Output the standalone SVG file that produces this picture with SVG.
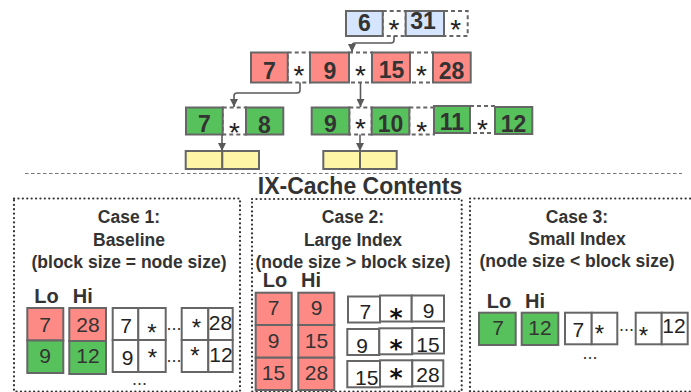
<svg xmlns="http://www.w3.org/2000/svg" width="691" height="392" viewBox="0 0 691 392">
  <style>
    text { font-family: "Liberation Sans", Arial, sans-serif; fill: #333; }
    .key { font-size: 23px; font-weight: bold; text-anchor: middle; }
    .ptr { font-size: 28px; text-anchor: middle; fill: #222; }
    .box { stroke: #666; stroke-width: 2; }
    .blue { fill: #d4e5fd; }
    .red { fill: #fe8a86; }
    .green { fill: #57c25c; }
    .yellow { fill: #fff5a6; }
    .white { fill: #fff; }
    .dash { fill: #fff; stroke: #666; stroke-width: 2; stroke-dasharray: 4 3; }
    .wire { fill: none; stroke: #5a5a5a; stroke-width: 1.6; }
    .title { font-size: 23px; font-weight: bold; text-anchor: middle; }
    .head { font-size: 17.5px; font-weight: bold; text-anchor: middle; }
    .lbl { font-size: 20px; font-weight: bold; }
    .val { font-size: 21px; text-anchor: middle; }
    .cell { font-size: 21px; text-anchor: middle; fill: #222; }
    .star { font-size: 24px; text-anchor: middle; fill: #222; }
    .bigstar { font-family: "DejaVu Sans", sans-serif; font-size: 25px; font-weight: bold; text-anchor: middle; fill: #111; }
    .dots { font-size: 18px; text-anchor: middle; fill: #333; }
    .frame { fill: none; stroke: #333; stroke-width: 2.2; stroke-dasharray: 0.1 4.3; stroke-linecap: round; }
  </style>
  <defs>
    <marker id="arrow" viewBox="0 0 10 10" refX="10" refY="5" markerWidth="5" markerHeight="5" markerUnits="strokeWidth" orient="auto">
      <path d="M0,0 L10,5 L0,10 Z" fill="#5a5a5a"/>
    </marker>
  </defs>

  <!-- root node -->
  <g id="root">
    <rect class="dash" x="382.7" y="11" width="23" height="25"/>
    <rect class="dash" x="444" y="11" width="23.7" height="25"/>
    <rect class="box blue" x="346" y="11" width="36.7" height="25"/>
    <rect class="box blue" x="405.7" y="11" width="38.3" height="25"/>
    <text class="key" x="364.3" y="31">6</text>
    <text class="ptr" x="394" y="39">*</text>
    <text class="key" x="423" y="29">31</text>
    <text class="ptr" x="455.8" y="39">*</text>
  </g>

  <!-- inner node -->
  <g id="inner">
    <rect class="dash" x="287.7" y="52.5" width="22.3" height="30"/>
    <rect class="dash" x="349" y="52.5" width="23" height="30"/>
    <rect class="dash" x="410" y="52.5" width="23" height="30"/>
    <rect class="box red" x="251" y="52.5" width="36.7" height="30"/>
    <rect class="box red" x="310" y="52.5" width="39" height="30"/>
    <rect class="box red" x="372" y="52.5" width="38" height="30"/>
    <rect class="box red" x="433" y="52.5" width="37.7" height="30"/>
    <text class="key" x="269.3" y="78.5">7</text>
    <text class="ptr" x="299" y="85">*</text>
    <text class="key" x="329.8" y="78.5">9</text>
    <text class="ptr" x="360.5" y="85">*</text>
    <text class="key" x="391.5" y="78">15</text>
    <text class="ptr" x="421.5" y="85">*</text>
    <text class="key" x="451.5" y="79">28</text>
  </g>

  <!-- left leaf -->
  <g id="leaf-left">
    <rect class="dash" x="222.7" y="107.5" width="23.3" height="27"/>
    <rect class="box green" x="186" y="107.5" width="36.7" height="27"/>
    <rect class="box green" x="246" y="107.5" width="37.3" height="27"/>
    <text class="key" x="204.3" y="131.7">7</text>
    <text class="ptr" x="234.5" y="142">*</text>
    <text class="key" x="264.5" y="132.5">8</text>
  </g>

  <!-- right leaf -->
  <g id="leaf-right">
    <rect class="dash" x="349.3" y="107.5" width="22.4" height="27"/>
    <rect class="dash" x="409.3" y="107.5" width="24.7" height="27"/>
    <rect class="dash" x="470" y="106" width="25" height="27"/>
    <rect class="box green" x="311.7" y="107.5" width="37.6" height="27"/>
    <rect class="box green" x="371.7" y="107.5" width="37.6" height="27"/>
    <rect class="box green" x="434" y="106" width="36" height="27"/>
    <rect class="box green" x="495" y="107" width="37.3" height="27"/>
    <text class="key" x="330.5" y="131.7">9</text>
    <text class="ptr" x="360.5" y="138">*</text>
    <text class="key" x="390.5" y="131.7">10</text>
    <text class="ptr" x="421.7" y="141">*</text>
    <text class="key" x="452" y="129.5">11</text>
    <text class="ptr" x="482.5" y="138.5">*</text>
    <text class="key" x="513.5" y="131.7">12</text>
  </g>

  <!-- data blocks -->
  <g id="block-left">
    <rect class="box yellow" x="185.7" y="151" width="36.6" height="18"/>
    <rect class="box yellow" x="222.3" y="151" width="36.7" height="18"/>
  </g>
  <g id="block-right">
    <rect class="box yellow" x="323.3" y="151" width="36.7" height="18"/>
    <rect class="box yellow" x="360" y="151" width="36.7" height="18"/>
  </g>

  <!-- child pointers -->
  <g id="connectors">
    <path class="wire" marker-end="url(#arrow)" d="M394,36 V40 Q394,43 391,43 H355 Q352,43 352,46 V52"/>
    <path class="wire" marker-end="url(#arrow)" d="M300,82.5 V90 Q300,93 297,93 H237 Q234,93 234,96 V107"/>
    <path class="wire" marker-end="url(#arrow)" d="M360.5,82.5 V107"/>
    <path class="wire" marker-end="url(#arrow)" d="M222,134.5 V151"/>
    <path class="wire" marker-end="url(#arrow)" d="M360,134.5 V151"/>
  </g>

  <!-- separator and heading -->
  <path d="M25,173.5 H682" fill="none" stroke="#777" stroke-width="1.2" stroke-dasharray="3.5 2.5"/>
  <text class="title" x="360" y="194">IX-Cache Contents</text>

  <!-- case 1: baseline -->
  <g id="case1">
    <rect class="frame" x="14" y="198.5" width="226" height="193"/>
    <text class="head" x="129" y="223">Case 1:</text>
    <text class="head" x="129" y="246">Baseline</text>
    <text class="head" x="129" y="267.5">(block size = node size)</text>
    <text class="lbl" x="34.3" y="303.3">Lo</text>
    <text class="lbl" x="72.7" y="303.3">Hi</text>
    <rect class="box red" x="27.3" y="308" width="36" height="32.5"/>
    <rect class="box green" x="27.3" y="340.5" width="36" height="32.5"/>
    <rect class="box red" x="69.3" y="308" width="36.7" height="33"/>
    <rect class="box green" x="69.3" y="341" width="36.7" height="33"/>
    <text class="val" x="45" y="331.7">7</text>
    <text class="val" x="88" y="331.7">28</text>
    <text class="val" x="45" y="363.3">9</text>
    <text class="val" x="88" y="363.3">12</text>
    <rect class="box white" x="112.7" y="308" width="25.6" height="32"/>
    <rect class="box white" x="138.3" y="308" width="27.4" height="32"/>
    <rect class="box white" x="181.7" y="308" width="26.6" height="32"/>
    <rect class="box white" x="208.3" y="308" width="24.4" height="32"/>
    <rect class="box white" x="112.7" y="340" width="25.6" height="32"/>
    <rect class="box white" x="138.3" y="340" width="27.4" height="32"/>
    <rect class="box white" x="181.7" y="340" width="26.6" height="32"/>
    <rect class="box white" x="208.3" y="340" width="24.4" height="32"/>
    <text class="cell" x="126" y="333.3">7</text>
    <text class="star" x="152" y="340.5">*</text>
    <text class="dots" x="174" y="330">...</text>
    <text class="star" x="196.5" y="336">*</text>
    <text class="cell" x="220.5" y="329.5" font-size="20">28</text>
    <text class="cell" x="127.7" y="365">9</text>
    <text class="star" x="152.3" y="366">*</text>
    <text class="dots" x="174" y="361.5">...</text>
    <text class="star" x="195" y="364">*</text>
    <text class="cell" x="221" y="361.7" font-size="20">12</text>
    <text class="dots" x="139.5" y="384.5">...</text>
  </g>

  <!-- case 2: large index -->
  <g id="case2">
    <rect class="frame" x="252" y="199" width="209.7" height="192.5"/>
    <text class="head" x="353" y="223">Case 2:</text>
    <text class="head" x="353" y="246">Large Index</text>
    <text class="head" x="353" y="267.5">(node size &gt; block size)</text>
    <text class="lbl" x="262.7" y="287.3">Lo</text>
    <text class="lbl" x="301" y="287.3">Hi</text>
    <rect class="box red" x="255.7" y="292.7" width="36" height="32.3"/>
    <rect class="box red" x="255.7" y="325" width="36" height="32.7"/>
    <rect class="box red" x="255.7" y="357.7" width="36" height="32.3"/>
    <rect class="box red" x="298.3" y="292.7" width="36" height="32.3"/>
    <rect class="box red" x="298.3" y="325" width="36" height="32.7"/>
    <rect class="box red" x="298.3" y="357.7" width="36" height="32.3"/>
    <text class="val" x="273.5" y="315">7</text>
    <text class="val" x="273.5" y="347.7">9</text>
    <text class="val" x="273.5" y="380">15</text>
    <text class="val" x="316.5" y="315">9</text>
    <text class="val" x="316.5" y="348.3">15</text>
    <text class="val" x="316.5" y="380">28</text>
    <rect class="box white" x="348" y="296.5" width="32" height="26"/>
    <rect class="box white" x="380" y="295.5" width="31.7" height="26"/>
    <rect class="box white" x="411.7" y="295.5" width="32.3" height="26"/>
    <rect class="box white" x="347.3" y="329" width="32" height="26"/>
    <rect class="box white" x="379.3" y="328.3" width="33" height="26"/>
    <rect class="box white" x="412.3" y="328" width="31.7" height="25.5"/>
    <rect class="box white" x="347.3" y="361" width="32.7" height="26.3"/>
    <rect class="box white" x="380" y="360.3" width="32.3" height="26.3"/>
    <rect class="box white" x="412.3" y="360.3" width="31" height="26"/>
    <text class="cell" x="365.3" y="319.3">7</text>
    <text class="bigstar" x="396" y="325.5">*</text>
    <text class="cell" x="428.7" y="318.3">9</text>
    <text class="cell" x="362.2" y="353.3">9</text>
    <text class="bigstar" x="396" y="357">*</text>
    <text class="cell" x="428" y="351.7">15</text>
    <text class="cell" x="366.7" y="385">15</text>
    <text class="bigstar" x="396" y="386">*</text>
    <text class="cell" x="428" y="381.7">28</text>
  </g>

  <!-- case 3: small index -->
  <g id="case3">
    <rect class="frame" x="470" y="198.5" width="240" height="193"/>
    <text class="head" x="577" y="222.7">Case 3:</text>
    <text class="head" x="577" y="245.3">Small Index</text>
    <text class="head" x="577" y="266.7">(node size &lt; block size)</text>
    <text class="lbl" x="486.7" y="308.3">Lo</text>
    <text class="lbl" x="525" y="308.3">Hi</text>
    <rect class="box green" x="479" y="312.7" width="36.7" height="32.3"/>
    <rect class="box green" x="521.7" y="312.7" width="36.6" height="32.3"/>
    <text class="val" x="498" y="335">7</text>
    <text class="val" x="540" y="335">12</text>
    <rect class="box white" x="565" y="312.7" width="26.7" height="31.6"/>
    <rect class="box white" x="591.7" y="312.7" width="25.6" height="31.6"/>
    <rect class="box white" x="635.7" y="312.7" width="26" height="31.6"/>
    <rect class="box white" x="661.7" y="312.7" width="26" height="31.6"/>
    <text class="cell" x="578.3" y="336.7">7</text>
    <text class="star" x="599.3" y="342">*</text>
    <text class="dots" x="626.5" y="331">...</text>
    <text class="star" x="643.3" y="344">*</text>
    <text class="cell" x="674" y="333.3" font-size="20">12</text>
    <text class="dots" x="590" y="359">...</text>
  </g>
</svg>
